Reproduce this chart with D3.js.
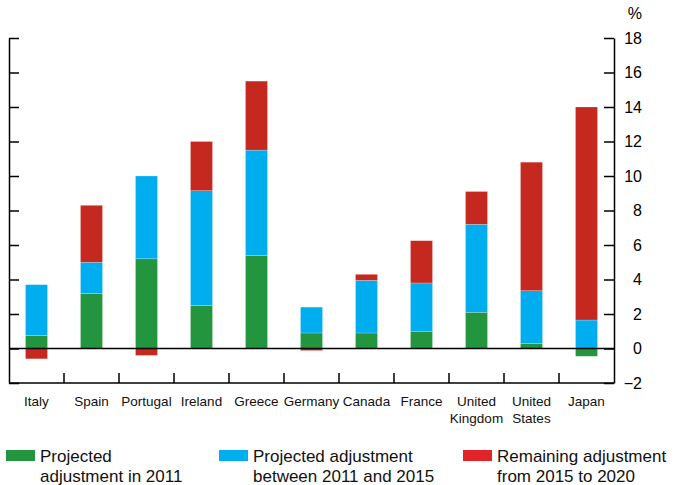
<!DOCTYPE html>
<html>
<head>
<meta charset="utf-8">
<script src="https://cdn.jsdelivr.net/npm/d3@7"></script>
<style>
  body { margin: 0; background: #fff; }
  svg { display: block; font-family: "Liberation Sans", Arial, sans-serif; }
</style>
</head>
<body>
<svg id="chart" width="673" height="485"></svg>
<script>
// data (per cent)
const countries = ['Italy', 'Spain', 'Portugal', 'Ireland', 'Greece', 'Germany', 'Canada', 'France', 'United Kingdom', 'United States', 'Japan'];
const adj2011 = [0.75, 3.2, 5.2, 2.5, 5.4, 0.9, 0.9, 1.0, 2.1, 0.3, -0.45];
const adj2011to2015 = [2.95, 1.8, 4.8, 6.65, 6.1, 1.5, 3.05, 2.8, 5.1, 3.05, 1.65];
const adj2015to2020 = [-0.6, 3.3, -0.4, 2.85, 4.0, -0.12, 0.35, 2.45, 1.9, 7.45, 12.35];
const yTicks = [-2, 0, 2, 4, 6, 8, 10, 12, 14, 16, 18];
const seriesNames = ['Projected adjustment in 2011', 'Projected adjustment between 2011 and 2015', 'Remaining adjustment from 2015 to 2020'];

const keys = ['a', 'b', 'c'];
const colors = { a: '#23953f', b: '#00aeef', c: '#c4281f' };
const legendColors = ['#23953f', '#00aeef', '#e2232a'];

const rows = countries.map((name, i) => ({ name, a: adj2011[i], b: adj2011to2015[i], c: adj2015to2020[i] }));

const svg = d3.select('#chart');
const plot = { left: 9, right: 614, top: 38, bottom: 383 };

const x = d3.scaleBand()
  .domain(countries)
  .range([plot.left, plot.right])
  .paddingInner(0.6)
  .paddingOuter(0.3);

const y = d3.scaleLinear()
  .domain([-2, 18])
  .range([plot.bottom, plot.top]);

const stacked = d3.stack()
  .keys(keys)
  .offset(d3.stackOffsetDiverging)(rows);

// bars
svg.append('g')
  .selectAll('g')
  .data(stacked)
  .join('g')
  .attr('fill', d => colors[d.key])
  .selectAll('rect')
  .data(d => d)
  .join('rect')
  .attr('x', d => x(d.data.name))
  .attr('width', x.bandwidth())
  .attr('y', d => y(Math.max(d[0], d[1])))
  .attr('height', d => Math.abs(y(d[0]) - y(d[1])))
  .attr('stroke', '#fff')
  .attr('stroke-opacity', 0.35)
  .attr('stroke-width', 0.6);

// zero line
svg.append('line')
  .attr('x1', plot.left).attr('x2', plot.right)
  .attr('y1', y(0)).attr('y2', y(0))
  .attr('stroke', '#000').attr('stroke-width', 1.5);

// left axis, ticks pointing in
const leftAxis = svg.append('g')
  .attr('transform', `translate(${plot.left},0)`)
  .call(d3.axisRight(y).tickValues(yTicks).tickSize(10).tickSizeOuter(0).tickFormat(''));

// right axis, ticks pointing in, labels on the outside
const rightAxis = svg.append('g')
  .attr('transform', `translate(${plot.right},0)`)
  .call(d3.axisLeft(y).tickValues(yTicks).tickSize(10).tickSizeOuter(0));
rightAxis.selectAll('text')
  .attr('x', 28)
  .attr('text-anchor', 'end')
  .attr('font-size', 16)
  .attr('fill', '#000')
  .attr('font-family', '"Liberation Sans", Arial, sans-serif');

[leftAxis, rightAxis].forEach(a => {
  a.selectAll('path, line').attr('stroke', '#000').attr('stroke-width', 1.5);
});

svg.append('text')
  .attr('x', 642).attr('y', 19)
  .attr('text-anchor', 'end')
  .attr('font-size', 16)
  .text('%');

// bottom axis with separators between the countries
svg.append('line')
  .attr('x1', plot.left).attr('x2', plot.right)
  .attr('y1', plot.bottom).attr('y2', plot.bottom)
  .attr('stroke', '#000').attr('stroke-width', 1.5);

svg.append('g')
  .selectAll('line')
  .data(countries.slice(1))
  .join('line')
  .attr('x1', d => x(d) - x.step() * x.paddingInner() / 2)
  .attr('x2', d => x(d) - x.step() * x.paddingInner() / 2)
  .attr('y1', plot.bottom).attr('y2', plot.bottom - 10)
  .attr('stroke', '#000').attr('stroke-width', 1.5);

// category labels (split two-word names)
const catLabels = svg.append('g')
  .selectAll('text')
  .data(countries)
  .join('text')
  .attr('x', d => x(d) + x.bandwidth() / 2)
  .attr('y', 406)
  .attr('text-anchor', 'middle')
  .attr('font-size', 13.5)
  .attr('fill', '#111');
catLabels.each(function (d) {
  const parts = d.startsWith('United') ? d.split(' ') : [d];
  d3.select(this).selectAll('tspan')
    .data(parts)
    .join('tspan')
    .attr('x', x(d) + x.bandwidth() / 2)
    .attr('dy', (p, i) => i === 0 ? 0 : 17)
    .text(p => p);
});

// legend
const legendX = [6, 219, 463];
const legendLines = [
  ['Projected', 'adjustment in 2011'],
  ['Projected adjustment', 'between 2011 and 2015'],
  ['Remaining adjustment', 'from 2015 to 2020']
];
const legend = svg.append('g')
  .selectAll('g')
  .data(seriesNames)
  .join('g')
  .attr('transform', (d, i) => `translate(${legendX[i]},0)`);

legend.append('rect')
  .attr('x', 0).attr('y', 450)
  .attr('width', 29).attr('height', 11)
  .attr('fill', (d, i) => legendColors[i]);

legend.append('text')
  .attr('font-size', 17)
  .attr('fill', '#111')
  .each(function (d, i) {
    d3.select(this).selectAll('tspan')
      .data(legendLines[i])
      .join('tspan')
      .attr('x', 34)
      .attr('y', (p, j) => 462 + j * 19.5)
      .text(p => p);
  });
</script>
</body>
</html>
